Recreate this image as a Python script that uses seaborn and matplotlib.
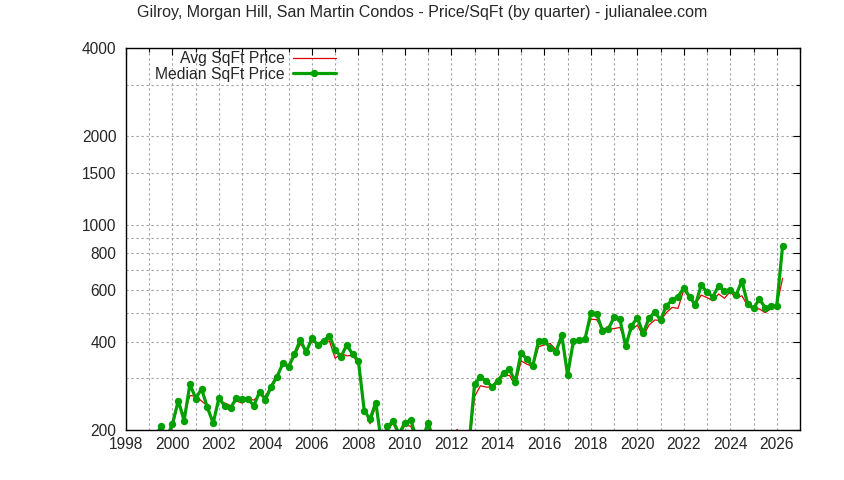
import numpy as np
import pandas as pd
import seaborn as sns
import matplotlib
matplotlib.use('Agg')
import matplotlib.pyplot as plt
from matplotlib.ticker import FixedLocator, FixedFormatter, NullFormatter

# quarterly series, 1999 Q2 .. 2026 Q2 (values below 200 fall off the log axis)
first_quarter = '1999Q2'
last_quarter = '2026Q2'

avg_price = [
    185, 203, 186,
    205, 248, 225, 262,
    261, 251, 242, 213,
    252, 247, 242, 251,
    247, 255, 253, 263,
    260, 285, 308, 337,
    334, 358, 392, 376,
    400, 395, 400, 402,
    351, 364, 358, 359,
    337, 236, 210, 243,
    176, 203, 210, 190,
    208, 206, 186, 183,
    208, 178, 172, 170,
    180, 201, 180, 172,
    260, 283, 280, 280,
    300, 306, 307, 283,
    344, 335, 329, 384,
    390, 394, 375, 405,
    315, 401, 405, 410,
    477, 475, 445, 441,
    443, 447, 400, 438,
    455, 418, 455, 474,
    472, 502, 523, 519,
    600, 562, 537, 576,
    565, 551, 581, 562,
    592, 562, 573, 529,
    517, 517, 502, 517,
    529, 657,
]

median_price = [
    188, 206, 188,
    210, 252, 215, 287,
    256, 276, 239, 211,
    257, 241, 238, 257,
    256, 255, 242, 270,
    254, 281, 304, 337,
    329, 362, 406, 368,
    411, 390, 402, 419,
    376, 355, 390, 362,
    344, 233, 218, 248,
    178, 206, 214, 194,
    212, 216, 188, 185,
    212, 182, 175, 172,
    178, 185, 180, 175,
    288, 302, 294, 281,
    293, 313, 322, 292,
    367, 348, 330, 402,
    403, 381, 369, 421,
    308, 401, 405, 408,
    500, 498, 435, 441,
    484, 477, 385, 453,
    482, 427, 480, 504,
    474, 530, 554, 569,
    610, 569, 533, 624,
    589, 569, 620, 595,
    600, 576, 645, 536,
    519, 559, 522, 527,
    529, 846,
]

ytick_major = [200, 400, 600, 800, 1000, 1500, 2000, 4000]
ytick_minor = [300, 500, 700, 900, 3000]
xtick_major = list(range(1998, 2027, 2))
xtick_minor = list(range(1999, 2028, 2))

title = 'Gilroy, Morgan Hill, San Martin Condos - Price/SqFt (by quarter) - julianalee.com'

#%% build frame
q = pd.period_range(first_quarter, last_quarter, freq='Q')
df = pd.DataFrame({
    'x': q.year + (q.quarter - 1) / 4.0,
    'Avg SqFt Price': avg_price,
    'Median SqFt Price': median_price,
})

sns.set_style('white')
plt.rcParams['font.family'] = ['Liberation Sans', 'DejaVu Sans']

fig = plt.figure(figsize=(8.44, 4.8), dpi=100)
ax = fig.add_axes([126 / 844, 1 - 430 / 480, 674 / 844, 382 / 480])

red = '#e00000'
green = '#00a000'

sns.lineplot(data=df, x='x', y='Avg SqFt Price', ax=ax, color=red,
             linewidth=0.9, label='Avg SqFt Price')
sns.lineplot(data=df, x='x', y='Median SqFt Price', ax=ax, color=green,
             linewidth=2.3, marker='o', markersize=5.3, markeredgewidth=0,
             label='Median SqFt Price')

ax.set_yscale('log')
ax.set_xlim(1998, 2027)
ax.set_ylim(200, 4000)

ax.yaxis.set_major_locator(FixedLocator(ytick_major))
ax.yaxis.set_major_formatter(FixedFormatter([str(v) for v in ytick_major]))
ax.yaxis.set_minor_locator(FixedLocator(ytick_minor))
ax.yaxis.set_minor_formatter(NullFormatter())
ax.xaxis.set_major_locator(FixedLocator(xtick_major))
ax.xaxis.set_minor_locator(FixedLocator(xtick_minor))

ax.grid(which='both', color='#a0a0a0', linestyle=(0, (2, 2.5)), linewidth=0.8)
ax.set_axisbelow(True)
ax.tick_params(which='both', direction='in', top=True, right=True, labelsize=11.2,
               color='black')
ax.tick_params(which='major', length=5, width=0.8)
ax.tick_params(which='minor', length=3, width=0.8)
ax.tick_params(axis='x', pad=5)
ax.tick_params(axis='y', pad=7)
for s in ax.spines.values():
    s.set_color('black')
    s.set_linewidth(1.0)

ax.set_xlabel('')
ax.set_ylabel('')

ax.legend(loc='upper right', bbox_to_anchor=(0.3115, 0.992), frameon=False,
          markerfirst=False, borderpad=0, borderaxespad=0, handlelength=2.75,
          handletextpad=0.5, labelspacing=0.05, fontsize=11.3)

fig.text(0.5, 1 - 13 / 480, title, ha='center', va='center', fontsize=11.5)

fig.savefig('out.png', dpi=100)
